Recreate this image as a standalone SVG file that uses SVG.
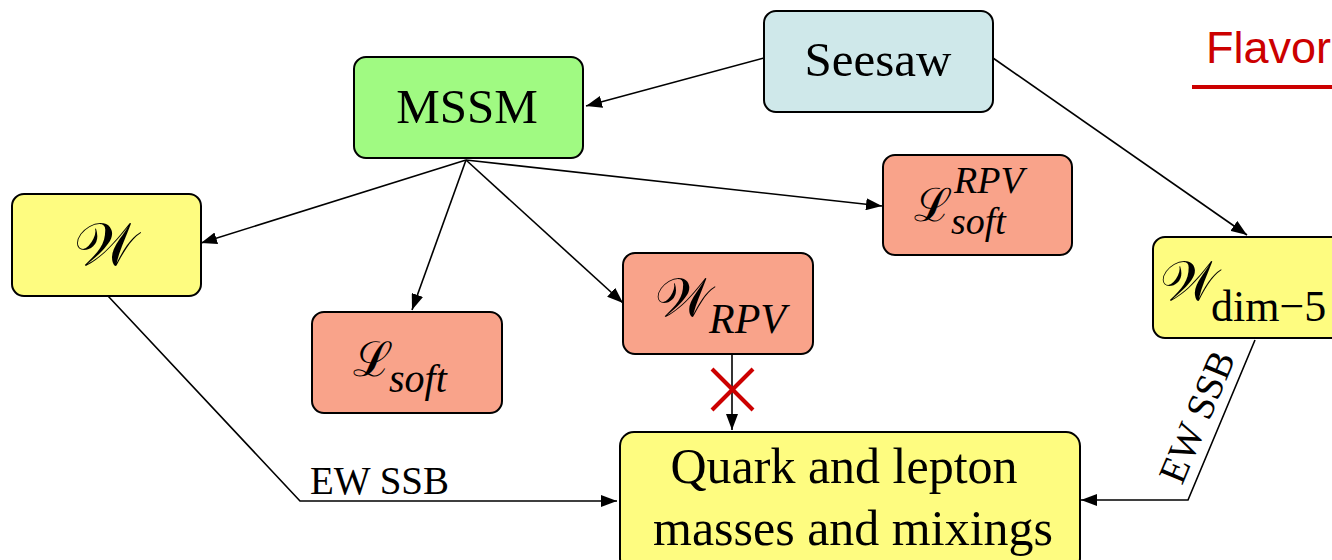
<svg xmlns="http://www.w3.org/2000/svg" width="1332" height="560" viewBox="0 0 1332 560">
<style>
.node rect{stroke:#000;stroke-width:2}
.t{font-family:"Liberation Serif","Times New Roman",serif;fill:#000}
.m{font-family:"Liberation Serif","DejaVu Serif",serif;fill:#000}
.i{font-style:italic}
.conn line,.conn polyline{stroke:#000;stroke-width:1.6;fill:none}
.x line{stroke:#cc0000;stroke-width:4}
.yel{fill:#fefc80}
.sal{fill:#f9a38a}
</style>
<defs>
<marker id="ah" viewBox="0 0 16 12" refX="16" refY="6" markerWidth="16" markerHeight="12" markerUnits="userSpaceOnUse" orient="auto">
<path d="M0,0 L16,6 L0,12 z" fill="#000"/>
</marker>
</defs>
<g id="flavor">
<text x="1206" y="63" font-family="Liberation Sans, Arial, sans-serif" font-size="45" fill="#cc0000">Flavor</text>
<line x1="1192" y1="87" x2="1332" y2="87" stroke="#cc0000" stroke-width="4"/>
</g>
<g class="conn" id="connectors">
<line x1="764" y1="58" x2="586" y2="106" marker-end="url(#ah)"/>
<line x1="993" y1="58" x2="1247" y2="235" marker-end="url(#ah)"/>
<line x1="466" y1="160" x2="201" y2="243" marker-end="url(#ah)"/>
<line x1="466" y1="160" x2="412" y2="310" marker-end="url(#ah)"/>
<line x1="466" y1="160" x2="623" y2="303" marker-end="url(#ah)"/>
<line x1="466" y1="160" x2="882" y2="206" marker-end="url(#ah)"/>
<polyline points="108,296 300,501 617,501" marker-end="url(#ah)"/>
<line x1="732" y1="354" x2="732" y2="430" marker-end="url(#ah)"/>
<polyline points="1255,340 1188,500 1081,500" marker-end="url(#ah)"/>
<text class="t" x="310" y="494" font-size="39">EW SSB</text>
<text class="t" x="0" y="0" font-size="39" transform="translate(1182,486) rotate(-67.3)">EW SSB</text>
<g class="x">
<line x1="712" y1="369" x2="753" y2="410"/>
<line x1="753" y1="369" x2="712" y2="410"/>
</g>
</g>
<g class="node" id="seesaw">
<rect x="764" y="11" width="229" height="101" rx="12" fill="#cfe8ea"/>
<text class="t" x="878" y="76" font-size="49" text-anchor="middle">Seesaw</text>
</g>
<g class="node" id="mssm">
<rect x="354" y="57" width="229" height="101" rx="12" fill="#a0fa82"/>
<text class="t" x="467" y="123" font-size="49" text-anchor="middle">MSSM</text>
</g>
<g class="node" id="W">
<rect class="yel" x="12" y="194" width="189" height="102" rx="12"/>
<text class="m" x="105" y="265" font-size="60" text-anchor="middle">𝒲</text>
</g>
<g class="node" id="Lsoft">
<rect class="sal" x="312" y="312" width="190" height="101" rx="12"/>
<text class="m" x="353" y="376" font-size="48">ℒ</text>
<text class="t i" x="389" y="392" font-size="40">soft</text>
</g>
<g class="node" id="WRPV">
<rect class="sal" x="623" y="253" width="190" height="101" rx="12"/>
<text class="m" x="655" y="316" font-size="54">𝒲</text>
<text class="t i" x="709" y="333" font-size="42">RPV</text>
</g>
<g class="node" id="LsoftRPV">
<rect class="sal" x="883" y="155" width="189" height="100" rx="12"/>
<text class="m" x="914" y="221" font-size="46">ℒ</text>
<text class="t i" x="954" y="193" font-size="38">RPV</text>
<text class="t i" x="951" y="234" font-size="38">soft</text>
</g>
<g class="node" id="Wdim5">
<rect class="yel" x="1153" y="237" width="200" height="101" rx="12"/>
<text class="m" x="1160" y="300" font-size="55">𝒲</text>
<text class="t" x="1211" y="321" font-size="44">dim−5</text>
</g>
<g class="node" id="quark">
<rect class="yel" x="620" y="432" width="460" height="140" rx="14"/>
<text class="t" x="844" y="483" font-size="50" text-anchor="middle">Quark and lepton</text>
<text class="t" x="853" y="545" font-size="50" text-anchor="middle">masses and mixings</text>
</g>
</svg>
